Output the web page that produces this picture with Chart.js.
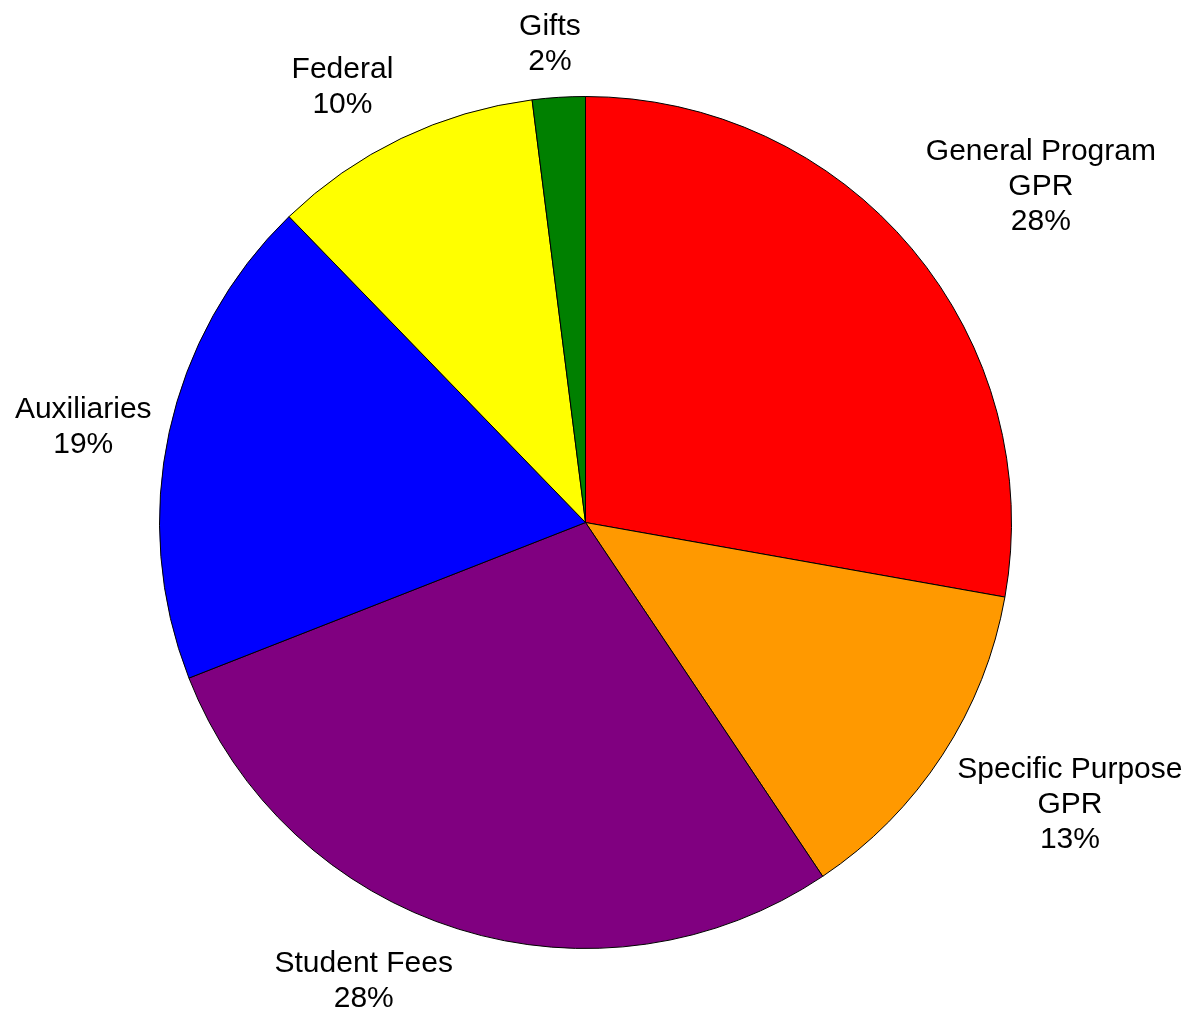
<!DOCTYPE html>
<html>
<head>
<meta charset="utf-8">
<script src="https://cdn.jsdelivr.net/npm/chart.js@4.4.1/dist/chart.umd.min.js"></script>
<style>
  html, body { margin: 0; padding: 0; background: #ffffff; }
  #wrap { width: 1198px; height: 1020px; position: relative; }
</style>
</head>
<body>
<div id="wrap"><canvas id="c"></canvas></div>
<script>
// ---- data ----
const categories = [
  ["General Program", "GPR"],
  ["Specific Purpose", "GPR"],
  ["Student Fees"],
  ["Auxiliaries"],
  ["Federal"],
  ["Gifts"]
];
const shares = [27.8, 12.8, 28.45, 18.7, 10.25, 2.0];
const sliceColors = ["#FF0000", "#FF9900", "#800080", "#0000FF", "#FFFF00", "#008000"];

const FONT_SIZE = 30;
const LINE_PITCH = 35;
const LABEL_GAP = 18;

const outsideLabels = {
  id: 'outsideLabels',
  afterDatasetsDraw(chart) {
    const ctx = chart.ctx;
    const meta = chart.getDatasetMeta(0);
    const data = chart.data.datasets[0].data;
    const total = data.reduce((a, b) => a + b, 0);
    ctx.save();
    ctx.font = FONT_SIZE + 'px "Liberation Sans", Arial, sans-serif';
    ctx.fillStyle = '#000000';
    ctx.textAlign = 'center';
    ctx.textBaseline = 'middle';
    meta.data.forEach((arc, i) => {
      const p = arc.getProps(['x', 'y', 'startAngle', 'endAngle', 'outerRadius'], true);
      const mid = (p.startAngle + p.endAngle) / 2;
      const dx = Math.cos(mid), dy = Math.sin(mid);
      const lines = chart.data.labels[i].concat([Math.round(data[i] / total * 100) + '%']);
      const w = Math.max(...lines.map(l => ctx.measureText(l).width));
      const h = lines.length * LINE_PITCH;
      const r = p.outerRadius + LABEL_GAP;
      const px = p.x + dx * r, py = p.y + dy * r;
      const fx = Math.min(1, Math.abs(dx) * 4);
      const fy = Math.max(0, Math.min(1, (Math.abs(dy) - 0.2) * 2.2));
      const cx = px + Math.sign(dx) * fx * w / 2;
      const cy = py + Math.sign(dy) * fy * h / 2;
      lines.forEach((l, k) => {
        ctx.fillText(l, cx, cy + (k - (lines.length - 1) / 2) * LINE_PITCH);
      });
    });
    ctx.restore();
  }
};

new Chart(document.getElementById('c'), {
  type: 'pie',
  data: {
    labels: categories,
    datasets: [{
      data: shares,
      backgroundColor: sliceColors,
      borderColor: '#000000',
      borderWidth: 1
    }]
  },
  options: {
    responsive: true,
    maintainAspectRatio: false,
    animation: false,
    layout: { padding: { left: 159, right: 186, top: 96, bottom: 71 } },
    plugins: {
      legend: { display: false },
      tooltip: { enabled: false }
    }
  },
  plugins: [outsideLabels]
});
</script>
</body>
</html>
